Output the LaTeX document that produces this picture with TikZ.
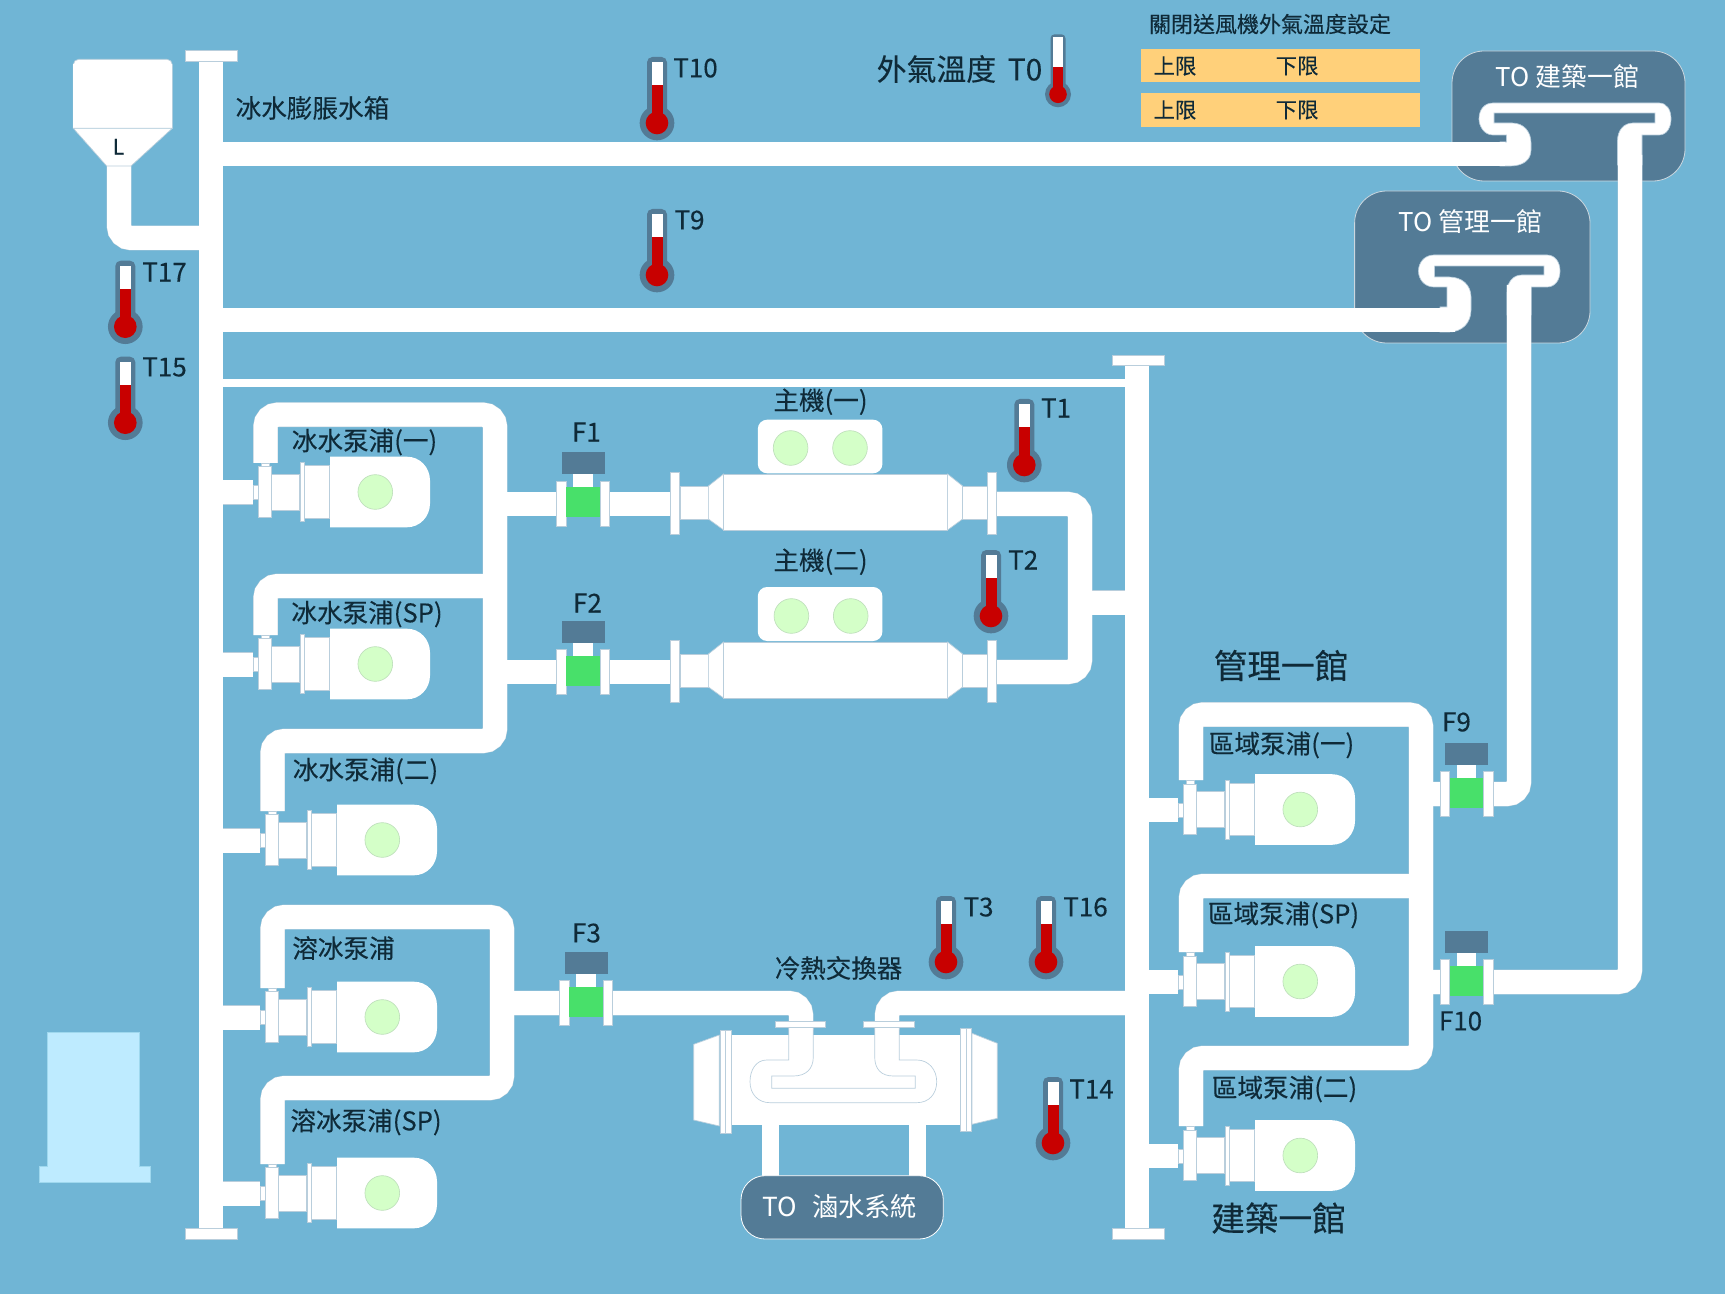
\documentclass[tikz,border=0pt]{standalone}
\usepackage{fontspec}
\setmainfont{Noto Sans CJK TC}[FakeBold=0.25]
\newfontfamily\lightface{Noto Sans CJK TC}
\definecolor{bgblue}{HTML}{70B5D5}
\definecolor{darkbox}{HTML}{537B96}
\definecolor{edgeline}{HTML}{B9CEDC}
\definecolor{redfill}{HTML}{C80000}
\definecolor{greenfill}{HTML}{48E06A}
\definecolor{lampfill}{HTML}{D4FFC8}
\definecolor{lampedge}{HTML}{BFE0BC}
\definecolor{inktext}{HTML}{0F2A38}
\definecolor{orangebox}{HTML}{FFD07A}
\definecolor{palebox}{HTML}{BEEBFF}
\definecolor{paleedge}{HTML}{9FD8EE}
\tikzset{
  pipeedge/.style={draw=edgeline,line width=18.6pt,rounded corners=9pt},
  pipecore/.style={draw=white,line width=18pt,rounded corners=9pt},
  thinedge/.style={draw=edgeline,line width=6.6pt},
  thincore/.style={draw=white,line width=6pt},
  part/.style={fill=white,draw=edgeline,line width=0.5pt},
  lamp/.style={fill=lampfill,draw=lampedge,line width=0.5pt},
  lbl/.style={text=inktext,font=\fontsize{19.2pt}{22pt}\selectfont,inner sep=0pt},
  tag/.style={text=inktext,font=\fontsize{19.5pt}{22pt}\selectfont,inner sep=0pt},
  big/.style={text=inktext,font=\fontsize{25.2pt}{28pt}\selectfont,inner sep=0pt},
  small/.style={text=inktext,font=\fontsize{16pt}{18pt}\selectfont,inner sep=0pt},
  wlbl/.style={text=white,font=\lightface\fontsize{19.4pt}{22pt}\selectfont,inner sep=0pt},
  tobox/.style={fill=darkbox,draw=white!70!darkbox,line width=0.6pt}
}
\newcommand{\allpipes}[1]{%
  % left header and right header
  \draw[#1] (211,56) -- (211,1233);
  \draw[#1] (1137,360) -- (1137,1233);
  % expansion tank feed
  \draw[#1] (119,166) -- (119,238) -- (211,238);
  % supply mains
  \draw[#1] (211,154) -- (1505,154);
  \draw[#1] (211,320) -- (1455,320);
  \draw[#1] (1630,155) -- (1630,982) -- (1421,982);
  \draw[#1] (1519,285) -- (1519,794) -- (1421,794);
  % left pumps, chilled water
  \draw[#1] (265.5,463) -- (265.5,414.7) -- (495,414.7) -- (495,741) -- (272.5,741) -- (272.5,811);
  \draw[#1] (265.5,635) -- (265.5,586) -- (495,586);
  \draw[#1] (223,492.5) -- (253,492.5);
  \draw[#1] (223,664.5) -- (253,664.5);
  \draw[#1] (223,840.5) -- (260,840.5);
  % to chillers
  \draw[#1] (495,504) -- (680,504);
  \draw[#1] (495,672) -- (680,672);
  \draw[#1] (986,504) -- (1080,504) -- (1080,672) -- (986,672);
  \draw[#1] (1080,602.7) -- (1137,602.7);
  % ice melt pumps
  \draw[#1] (272.5,988) -- (272.5,917) -- (502,917) -- (502,1088) -- (272.5,1088) -- (272.5,1164);
  \draw[#1] (223,1017.5) -- (260,1017.5);
  \draw[#1] (223,1193.5) -- (260,1193.5);
  % heat exchanger
  \draw[#1] (502,1003) -- (801,1003) -- (801,1030);
  \draw[#1] (1137,1003) -- (887,1003) -- (887,1030);
  % right pumps
  \draw[#1] (1191,780) -- (1191,714.5) -- (1421,714.5) -- (1421,1058) -- (1191,1058) -- (1191,1126);
  \draw[#1] (1191,952) -- (1191,886) -- (1421,886);
  \draw[#1] (1137,810) -- (1178,810);
  \draw[#1] (1137,982) -- (1178,982);
  \draw[#1] (1137,1156) -- (1178,1156);
}
\newcommand{\pumpunit}[2]{%
  \begin{scope}[shift={(#1,#2)}]
    \draw[part] (0,-7) rectangle (5,7);
    \draw[part] (8.7,-29.5) rectangle (16.4,-25.5);
    \draw[part] (5.7,-25.8) rectangle (18.7,24.5);
    \draw[part] (18.7,-18.5) rectangle (46.3,17.5);
    \draw[part] (47,-29.8) rectangle (51.3,29.2);
    \draw[part] (51.3,-26.8) rectangle (76.3,25.8);
    \fill[white] (77,-35.8) -- (154,-35.8) .. controls (167,-35.8) and (177,-25) .. (177,-12) -- (177,11) .. controls (177,24) and (167,34.8) .. (154,34.8) -- (77,34.8) -- cycle;
    \draw[lamp] (122.3,-0.5) circle (13pt);
  \end{scope}}
\newcommand{\flowunit}[2]{%
  \begin{scope}[shift={(#1,#2)}]
    \fill[darkbox] (-21.5,-51.5) rectangle (21.5,-29.5);
    \fill[white] (-9.7,-29.5) rectangle (9.7,-16);
    \draw[part] (-26.7,-23) rectangle (-17,22.5);
    \draw[part] (17,-23) rectangle (26.7,22.5);
    \fill[greenfill] (-16.7,-16.5) rectangle (16.7,13.5);
  \end{scope}}
\newcommand{\thermo}[2]{%
  \begin{scope}[shift={(#1,#2)}]
    \fill[darkbox,rounded corners=4pt] (-10,-66) rectangle (10,0);
    \fill[darkbox] (0,0) circle (13pt);
    \fill[white] (-5.5,-60.7) rectangle (5.5,-37.7);
    \fill[redfill] (-5.5,-37.7) rectangle (5.5,-3);
    \fill[redfill] (0,0) circle (8.5pt);
  \end{scope}}
\newcommand{\thermosmall}[2]{%
  \begin{scope}[shift={(#1,#2)}]
    \fill[darkbox,rounded corners=3pt] (-7.5,-60) rectangle (7.5,0);
    \fill[darkbox] (0,0) circle (9.75pt);
    \fill[white] (-4.7,-57.6) rectangle (4.7,-27);
    \fill[redfill] (-4.7,-27) rectangle (4.7,-2);
    \fill[redfill] (0,0) circle (6.6pt);
  \end{scope}}
\newcommand{\chillerunit}[1]{%
  \begin{scope}[shift={(0,#1)}]
    \draw[part] (680,-15.5) rectangle (708.4,17);
    \draw[part] (708.4,-16) -- (723.6,-28) -- (723.6,28) -- (708.4,17) -- cycle;
    \draw[part] (723.8,-28) rectangle (947.6,28);
    \draw[part] (947.6,-28) -- (962.6,-16) -- (962.6,17) -- (947.6,28) -- cycle;
    \draw[part] (962.6,-15.5) rectangle (987,17);
    \draw[part] (670,-30) rectangle (679.5,32.5);
    \draw[part] (987,-30) rectangle (996.7,32.5);
  \end{scope}}
\begin{document}
\begin{tikzpicture}[x=0.75pt,y=-0.75pt]
\useasboundingbox (0,0) rectangle (1725,1294);
\fill[bgblue] (0,0) rectangle (1725,1294);
% destination boxes
\draw[tobox,rounded corners=24pt] (1452,51) rectangle (1685,181);
\draw[tobox,rounded corners=24pt] (1354.6,191) rectangle (1590,343);
% pale tank
\fill[palebox,draw=paleedge,line width=0.5pt] (47.7,1166) -- (47.7,1032.7) -- (139.3,1032.7) -- (139.3,1166) -- (150,1166) -- (150,1182) -- (39,1182) -- (39,1166) -- cycle;
% pipes
\allpipes{pipeedge}
\draw[thinedge] (223,383) -- (1125,383);
% return bends
\draw[part] (1500,142) -- (1506.5,142) -- (1506.5,135) -- (1493,135)
  .. controls (1484,135) and (1479,126) .. (1479,119)
  .. controls (1479,110) and (1484,103) .. (1493,103)
  -- (1659,103) .. controls (1667,103) and (1671,110) .. (1671,119)
  .. controls (1671,127) and (1667,135) .. (1659,135)
  -- (1642,135) -- (1642,165) -- (1617.5,165) -- (1617.5,141)
  .. controls (1617.5,130) and (1624,123) .. (1633,123)
  -- (1655,123) -- (1655,113) -- (1494,113) -- (1494,123) -- (1512,123)
  .. controls (1524,123) and (1531,132) .. (1531,143)
  -- (1531,150) .. controls (1531,160) and (1523,166) .. (1510,166)
  -- (1500,166) -- cycle;
\draw[part] (1440,307) -- (1447,307) -- (1447,287) -- (1434,287)
  .. controls (1425,287) and (1418.5,280) .. (1418.5,271)
  .. controls (1418.5,262) and (1425,255) .. (1434,255)
  -- (1547,255) .. controls (1555,255) and (1560,262) .. (1560,271)
  .. controls (1560,280) and (1555,287) .. (1547,287)
  -- (1531,287) -- (1531,315) -- (1507,315) -- (1507,293)
  .. controls (1507,282) and (1513,275) .. (1522,275)
  -- (1544,275) -- (1544,266) -- (1434.6,266) -- (1434.6,277) -- (1449,277)
  .. controls (1462,277) and (1471,285) .. (1471,297)
  -- (1471,310) .. controls (1471,323) and (1462,332) .. (1449,332)
  -- (1440,332) -- cycle;
\allpipes{pipecore}
\draw[thincore] (223,383) -- (1125,383);
% header caps
\draw[part] (185.7,50.7) rectangle (237.3,61.7);
\draw[part] (185.7,1228) rectangle (237.3,1239);
\draw[part] (1112,355) rectangle (1164,365);
\draw[part] (1112,1228) rectangle (1164,1239);
% expansion tank
\draw[part,rounded corners=4pt] (73.3,128.3) -- (73.3,59.3) -- (172.3,59.3) -- (172.3,128.3);
\fill[white] (73.3,128.3) -- (73.3,64) -- (172.3,64) -- (172.3,128.3) -- cycle;
\draw[part] (73.3,128.3) -- (172.3,128.3) -- (131,166) -- (106.7,166) -- cycle;
% chillers
\chillerunit{502}
\chillerunit{670}
\fill[white,rounded corners=7pt] (757.8,419.7) rectangle (882.4,473.3);
\draw[lamp] (790.6,448) circle (13pt);
\draw[lamp] (850,448) circle (13pt);
\fill[white,rounded corners=7pt] (757.8,587) rectangle (882.4,641);
\draw[lamp] (791.4,616) circle (13pt);
\draw[lamp] (850.7,616) circle (13pt);
% pumps
\pumpunit{253}{492.5}
\pumpunit{253}{664.5}
\pumpunit{260}{840.5}
\pumpunit{260}{1017.5}
\pumpunit{260}{1193.5}
\pumpunit{1178}{810}
\pumpunit{1178}{982}
\pumpunit{1178}{1156}
% flow meters
\flowunit{583}{504}
\flowunit{583}{672}
\flowunit{586}{1003}
\flowunit{1466.7}{794}
\flowunit{1466.7}{982}
% heat exchanger
\fill[white] (762.3,1120) rectangle (779,1180);
\fill[white] (909.3,1120) rectangle (926,1180);
\draw[part] (693.7,1044.3) -- (719.3,1035) -- (719.3,1126) -- (693.7,1120) -- cycle;
\draw[part] (972,1033.3) -- (997.3,1043.3) -- (997.3,1118.3) -- (972,1124.3) -- cycle;
\fill[white] (731.7,1035) rectangle (960,1125);
\draw[part] (720,1030.7) rectangle (725.3,1133.3);
\draw[part] (725.7,1030.7) rectangle (731,1133.3);
\draw[part] (960.7,1028.7) rectangle (966,1131.3);
\draw[part] (966,1028.7) rectangle (971.3,1131.3);
\fill[white] (788.7,1025) rectangle (813.3,1040);
\fill[white] (874.7,1025) rectangle (899.3,1040);
\draw[edgeline,line width=0.5pt] (788.7,1027) -- (788.7,1060) -- (766.7,1060)
  .. controls (756,1060) and (750,1070) .. (750,1081.7)
  .. controls (750,1094) and (758,1102.7) .. (770,1102.7)
  -- (916.7,1102.7) .. controls (929,1102.7) and (936.7,1094) .. (936.7,1081.7)
  .. controls (936.7,1070) and (929,1060) .. (916.7,1060)
  -- (899.3,1060) -- (899.3,1027);
\draw[edgeline,line width=0.5pt] (874.7,1027) -- (874.7,1056.7)
  .. controls (874.7,1069) and (881,1076) .. (893.3,1076)
  -- (915.3,1076) -- (915.3,1088.3) -- (771.7,1088.3) -- (771.7,1076) -- (793.3,1076)
  .. controls (806,1076) and (813.3,1069) .. (813.3,1056.7) -- (813.3,1027);
\draw[part] (775,1021) rectangle (825.7,1027.3);
\draw[part] (863,1021) rectangle (914,1027.3);
% to brine box
\draw[tobox,draw=white,rounded corners=18pt] (741,1175.7) rectangle (943.3,1239);
% order boxes
\fill[orangebox] (1141,49) rectangle (1419.7,81.7);
\fill[orangebox] (1141,93.3) rectangle (1419.7,127.3);
% thermometers
\thermo{657}{123}
\thermo{657}{275}
\thermo{125.3}{326.7}
\thermo{125.3}{422.7}
\thermo{1024.3}{465}
\thermo{991}{616}
\thermo{946}{962}
\thermo{1046}{962}
\thermo{1053}{1143}
\thermosmall{1058}{94.3}
% labels
\begin{scope}[shift={(0.5,0)}]
\node[lbl] (ltank) at (312,108) {冰水膨脹水箱};
\node[small] (ltankl) at (118,146.7) {L};
\node[lbl] (lp1) at (364,442) {冰水泵浦(一)};
\node[lbl] (lp2) at (366.5,614) {冰水泵浦(SP)};
\node[lbl] (lp3) at (365,771) {冰水泵浦(二)};
\node[lbl] (lp4) at (343,948) {溶冰泵浦};
\node[lbl] (lp5) at (365.5,1122) {溶冰泵浦(SP)};
\node[lbl] (lr1) at (1281,745) {區域泵浦(一)};
\node[lbl] (lr2) at (1283,915) {區域泵浦(SP)};
\node[lbl] (lr3) at (1284,1089) {區域泵浦(二)};
\node[big] (lb1) at (1280.5,665.5) {管理一館};
\node[big] (lb2) at (1278,1218) {建築一館};
\node[lbl] (lc1) at (820,401.7) {主機(一)};
\node[lbl] (lc2) at (820,561.7) {主機(二)};
\node[lbl] (lhx) at (838,968) {冷熱交換器};
\node[tag] (f1) at (586,432) {F1};
\node[tag] (f2) at (587,603) {F2};
\node[tag] (f3) at (586,933) {F3};
\node[tag] (f9) at (1456,722) {F9};
\node[tag] (f10) at (1460,1021) {F10};
\node[tag] (t10) at (695,68) {T10};
\node[tag] (t9) at (689,220) {T9};
\node[tag] (t17) at (164,272) {T17};
\node[tag] (t15) at (164,367) {T15};
\node[tag] (t1) at (1055.5,408) {T1};
\node[tag] (t2) at (1022.7,560) {T2};
\node[tag] (t3) at (978,907) {T3};
\node[tag] (t16) at (1085,907) {T16};
\node[tag] (t14) at (1091,1089) {T14};
\node[text=inktext,font=\fontsize{22.4pt}{24pt}\selectfont,inner sep=0pt] (t0) at (959,69) {外氣溫度 \,T0};
\node[small,font=\fontsize{16.5pt}{18pt}\selectfont] (ltitle) at (1269.5,24) {關閉送風機外氣溫度設定};
\node[small] (u1) at (1174.5,66) {上限};
\node[small] (d1) at (1296.6,66) {下限};
\node[small] (u2) at (1174.5,110) {上限};
\node[small] (d2) at (1296.6,110) {下限};
\node[wlbl] (tob) at (1567,76.7) {TO 建築一館};
\node[wlbl] (tom) at (1470,221.7) {TO 管理一館};
\node[wlbl,font=\lightface\fontsize{19.7pt}{22pt}\selectfont] (tos) at (839.5,1206.7) {TO\,\, 滷水系統};
\end{scope}
\end{tikzpicture}
\end{document}
